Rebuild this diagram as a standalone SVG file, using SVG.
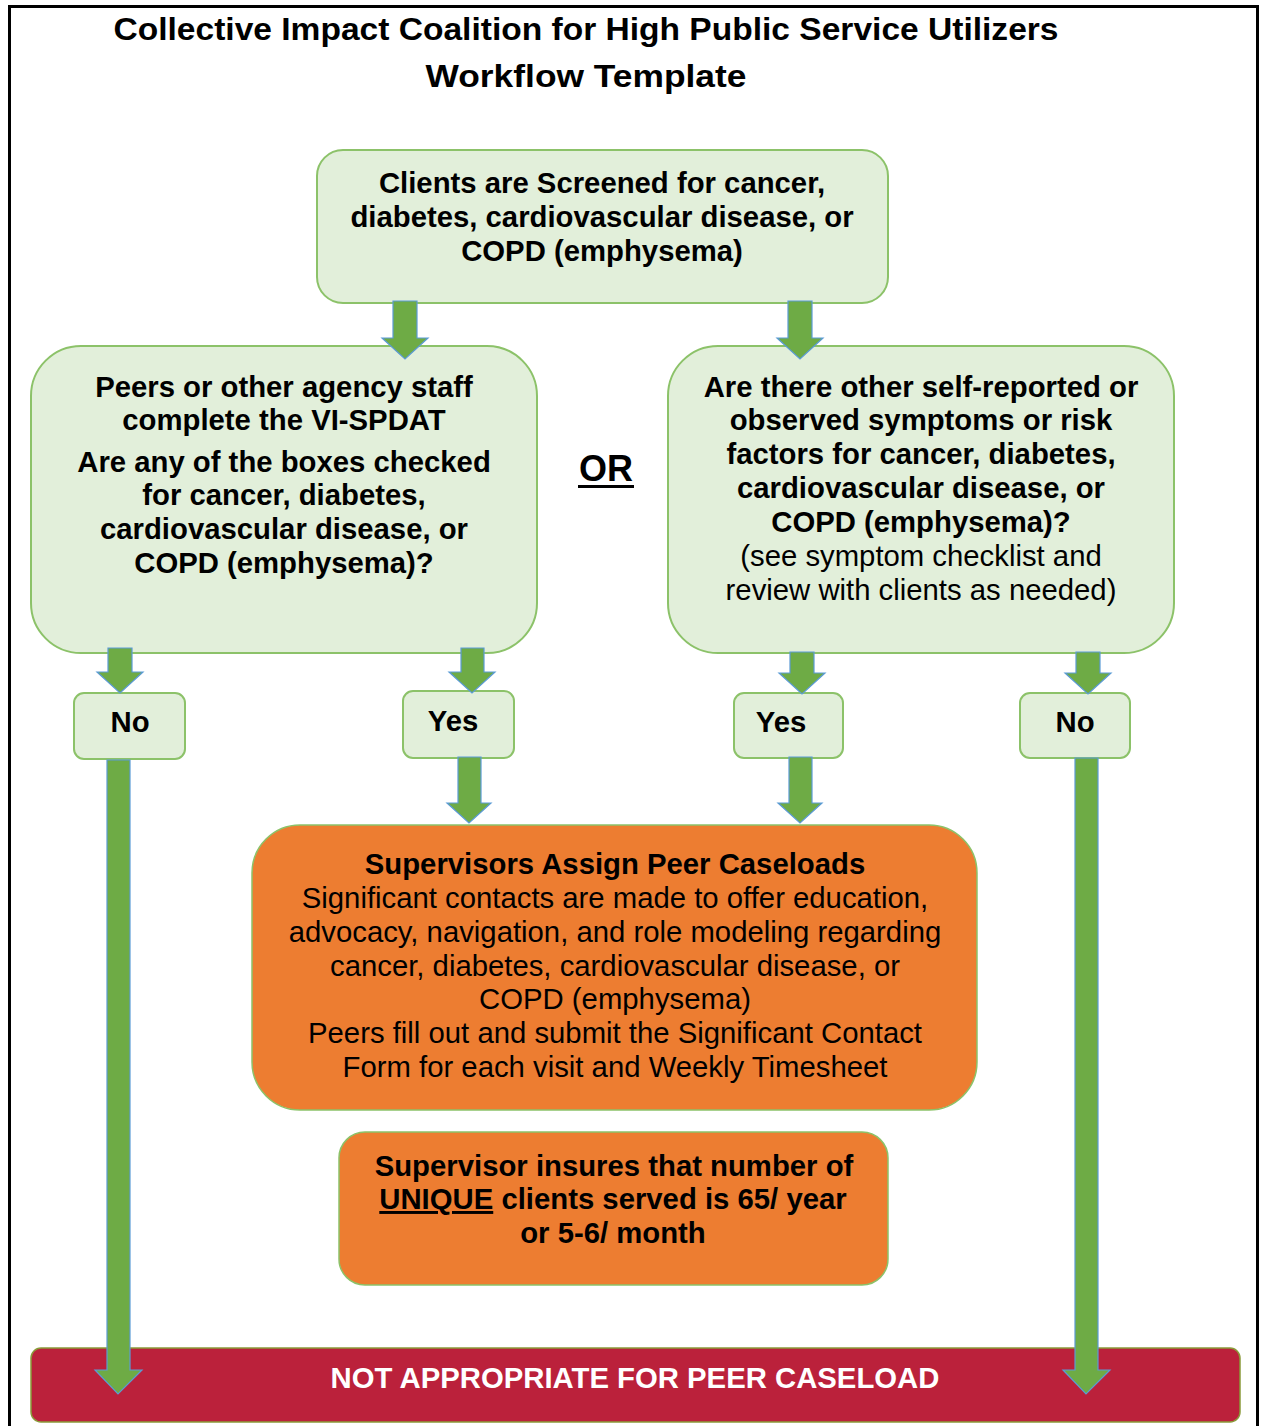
<svg xmlns="http://www.w3.org/2000/svg" width="1261" height="1426" viewBox="0 0 1261 1426">
<style>
.t{font-family:"Liberation Sans",Arial,sans-serif;font-size:29.3px;fill:#000;text-anchor:middle}
.b{font-weight:bold}
.title{font-family:"Liberation Sans",Arial,sans-serif;font-weight:bold;font-size:31px;fill:#000;text-anchor:middle}
.g{fill:#e2efda;stroke:#8cc269;stroke-width:2}
.o{fill:#ed7d31;stroke:#8cc269;stroke-width:1.5}
.r{fill:#bb213b;stroke:#8a9a3a;stroke-width:1.5}
.arr{fill:#6eab45;stroke:#5b9bd5;stroke-width:1.2;stroke-linejoin:miter}
</style>
<rect width="1261" height="1426" fill="#fff"/>
<path d="M9.5,1430 V6.5 H1257.5 V1430" fill="none" stroke="#000" stroke-width="3"/>
<g id="title">
<text class="title" x="586" y="40" textLength="945" lengthAdjust="spacingAndGlyphs">Collective Impact Coalition for High Public Service Utilizers</text>
<text class="title" x="586" y="87" textLength="321" lengthAdjust="spacingAndGlyphs">Workflow Template</text>
</g>
<g id="screen">
<rect class="g" x="317" y="150" width="571" height="153" rx="26"/>
<text class="t b" x="602" y="193">Clients are Screened for cancer,</text>
<text class="t b" x="602" y="227">diabetes, cardiovascular disease, or</text>
<text class="t b" x="602" y="261">COPD (emphysema)</text>
</g>
<g id="vispdat">
<rect class="g" x="31" y="346" width="506" height="307" rx="50"/>
<text class="t b" x="284" y="397">Peers or other agency staff</text>
<text class="t b" x="284" y="430">complete the VI-SPDAT</text>
<text class="t b" x="284" y="472">Are any of the boxes checked</text>
<text class="t b" x="284" y="505">for cancer, diabetes,</text>
<text class="t b" x="284" y="539">cardiovascular disease, or</text>
<text class="t b" x="284" y="573">COPD (emphysema)?</text>
</g>
<g id="or">
<text class="t b" x="606" y="481" style="font-size:36px">OR</text>
<rect x="578" y="485" width="56" height="3" fill="#000"/>
</g>
<g id="symptoms">
<rect class="g" x="668" y="346" width="506" height="307" rx="50"/>
<text class="t b" x="921" y="397">Are there other self-reported or</text>
<text class="t b" x="921" y="430">observed symptoms or risk</text>
<text class="t b" x="921" y="464">factors for cancer, diabetes,</text>
<text class="t b" x="921" y="498">cardiovascular disease, or</text>
<text class="t b" x="921" y="532">COPD (emphysema)?</text>
<text class="t" x="921" y="566">(see symptom checklist and</text>
<text class="t" x="921" y="600">review with clients as needed)</text>
</g>
<g id="no-left">
<rect class="g" x="74" y="693" width="111" height="66" rx="10"/>
<text class="t b" x="130" y="732">No</text>
</g>
<g id="yes-left">
<rect class="g" x="403" y="691" width="111" height="67" rx="10"/>
<text class="t b" x="453" y="731">Yes</text>
</g>
<g id="yes-right">
<rect class="g" x="734" y="693" width="109" height="65" rx="10"/>
<text class="t b" x="781" y="732">Yes</text>
</g>
<g id="no-right">
<rect class="g" x="1020" y="693" width="110" height="65" rx="10"/>
<text class="t b" x="1075" y="732">No</text>
</g>
<g id="assign">
<rect class="o" x="252" y="825" width="725" height="285" rx="48"/>
<text class="t b" x="615" y="874">Supervisors Assign Peer Caseloads</text>
<text class="t" x="615" y="908">Significant contacts are made to offer education,</text>
<text class="t" x="615" y="942">advocacy, navigation, and role modeling regarding</text>
<text class="t" x="615" y="976">cancer, diabetes, cardiovascular disease, or</text>
<text class="t" x="615" y="1009">COPD (emphysema)</text>
<text class="t" x="615" y="1043">Peers fill out and submit the Significant Contact</text>
<text class="t" x="615" y="1077">Form for each visit and Weekly Timesheet</text>
</g>
<g id="unique">
<rect class="o" x="339" y="1132" width="549" height="153" rx="26"/>
<text class="t b" x="614" y="1176">Supervisor insures that number of</text>
<text class="t b" x="613" y="1209"><tspan text-decoration="underline">UNIQUE</tspan> clients served is 65/ year</text>
<text class="t b" x="613" y="1243">or 5-6/ month</text>
</g>
<g id="not-appropriate">
<rect class="r" x="31" y="1348" width="1209" height="74" rx="10"/>
<text class="t b" x="635" y="1388" style="fill:#fff">NOT APPROPRIATE FOR PEER CASELOAD</text>
</g>
<g id="connectors">
<polygon class="arr" points="393,301 417,301 417,338 428,338 405,359 382,338 393,338"/>
<polygon class="arr" points="788,301 812,301 812,338 823,338 800,359 777,338 788,338"/>
<polygon class="arr" points="108,648 132,648 132,672 143,672 120,693 97,672 108,672"/>
<polygon class="arr" points="461,648 484,648 484,672 495,672 472,693 449,672 461,672"/>
<polygon class="arr" points="790,652 814,652 814,673 825,673 802,694 779,673 790,673"/>
<polygon class="arr" points="1076,652 1100,652 1100,673 1111,673 1088,694 1065,673 1076,673"/>
<polygon class="arr" points="458,757 481,757 481,803 491,803 469,823 447,803 458,803"/>
<polygon class="arr" points="789,757 812,757 812,803 822,803 800,823 778,803 789,803"/>
<polygon class="arr" points="107,760 130,760 130,1370 142,1370 118,1394 95,1370 107,1370"/>
<polygon class="arr" points="1075,758 1098,758 1098,1370 1110,1370 1086,1394 1063,1370 1075,1370"/>
</g>
</svg>
